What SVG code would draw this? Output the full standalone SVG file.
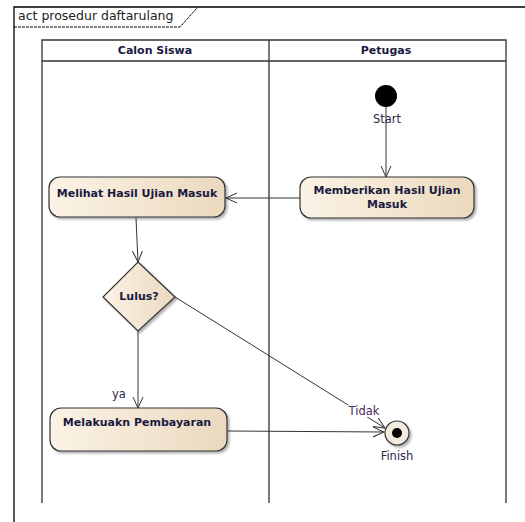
<svg xmlns="http://www.w3.org/2000/svg" width="525" height="522" viewBox="0 0 525 522">
<defs>
<linearGradient id="g" x1="0" y1="0" x2="1" y2="0">
<stop offset="0" stop-color="#FBF3E6"/>
<stop offset="1" stop-color="#EBD9BE"/>
</linearGradient>
<marker id="arr" viewBox="0 0 12 12" refX="11" refY="6" markerWidth="12" markerHeight="12" markerUnits="userSpaceOnUse" orient="auto">
<path d="M0,1 L11,6 L0,11" fill="none" stroke="#333" stroke-width="1"/>
</marker>
<filter id="sh" x="-10%" y="-10%" width="130%" height="140%">
<feDropShadow dx="2" dy="2" stdDeviation="1" flood-color="#000" flood-opacity="0.3"/>
</filter>
</defs>
<style>
.lane{fill:none;stroke:#333;stroke-width:1.3}
.node{fill:url(#g);stroke:#333;stroke-width:1.2;filter:url(#sh)}
.t{font-family:"DejaVu Sans",Verdana,sans-serif;font-size:11px;font-weight:bold;fill:#1a1a40;text-anchor:middle}
.l{font-family:"DejaVu Sans",Verdana,sans-serif;font-size:11.5px;fill:#2a2a4a;text-anchor:middle}
.c{fill:none;stroke:#333;stroke-width:1}
</style>
<rect width="525" height="522" fill="#fff"/>
<g id="frame">
<path d="M14,522 L14,7 L525,7" fill="none" stroke="#000" stroke-width="1.3"/>
<path d="M14,27 L180,27 L197,8" fill="none" stroke="#000" stroke-width="1" stroke-dasharray="3,1"/>
<text x="18" y="20" font-family="'DejaVu Sans',Verdana,sans-serif" font-size="12.5" fill="#222">act prosedur daftarulang</text>
</g>
<g id="lanes">
<path class="lane" d="M42,503 L42,40 L506,40 L506,503 M42,61 L506,61 M269,40 L269,503"/>
<text class="t" x="155" y="54">Calon Siswa</text>
<text class="t" x="386" y="54">Petugas</text>
</g>
<g id="connectors">
<line class="c" x1="386" y1="107" x2="386" y2="177" marker-end="url(#arr)"/>
<line class="c" x1="300" y1="198" x2="226" y2="198" marker-end="url(#arr)"/>
<line class="c" x1="136" y1="218" x2="138" y2="262" marker-end="url(#arr)"/>
<line class="c" x1="138" y1="331" x2="138" y2="408" marker-end="url(#arr)"/>
<line class="c" x1="175" y1="297" x2="385" y2="428" marker-end="url(#arr)"/>
<line class="c" x1="228" y1="431" x2="384" y2="432" marker-end="url(#arr)"/>
<rect x="346" y="405" width="36" height="12" fill="#fff"/>
<text class="l" x="364" y="415" fill="#4a2a5a" style="fill:#4a2a5a">Tidak</text>
<text class="l" x="119" y="398">ya</text>
</g>
<g id="start">
<circle cx="386" cy="96" r="11" fill="#000"/>
<text class="l" x="387" y="123">Start</text>
</g>
<g id="memberikan">
<rect class="node" x="300" y="177" width="174" height="41" rx="11"/>
<text class="t" x="387" y="194">Memberikan Hasil Ujian</text>
<text class="t" x="387" y="208">Masuk</text>
</g>
<g id="melihat">
<rect class="node" x="49" y="177" width="176" height="40" rx="11"/>
<text class="t" x="137" y="197">Melihat Hasil Ujian Masuk</text>
</g>
<g id="lulus">
<polygon class="node" points="138,262 175,297 138,331 103,297"/>
<text class="t" x="139" y="300">Lulus?</text>
</g>
<g id="pembayaran">
<rect class="node" x="50" y="408" width="177" height="43" rx="11"/>
<text class="t" x="137" y="426">Melakuakn Pembayaran</text>
</g>
<g id="finish">
<circle cx="397" cy="433" r="12" fill="#F3EBDD" stroke="#333" stroke-width="1.2" filter="url(#sh)"/>
<circle cx="397" cy="433" r="5" fill="#000"/>
<text class="l" x="397" y="460">Finish</text>
</g>
</svg>
